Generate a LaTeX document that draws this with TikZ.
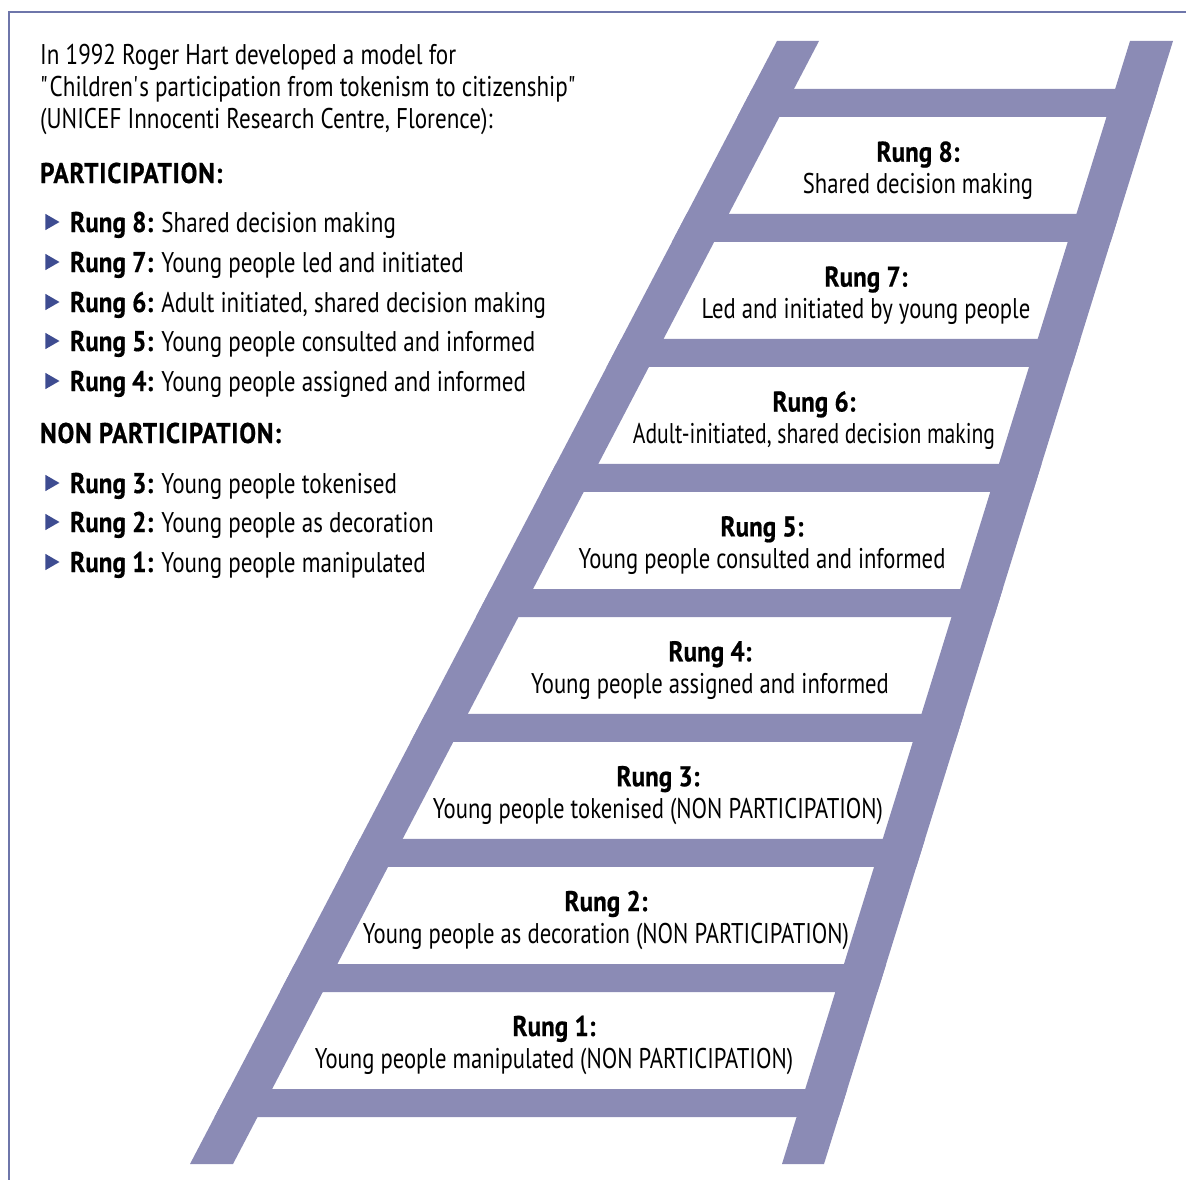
\documentclass[tikz,border=0pt]{standalone}
\usepackage{fontspec}
\setmainfont[FakeStretch=0.81, BoldFeatures={FakeStretch=0.88, FakeBold=0.6}]{PT Sans}
\usetikzlibrary{calc,positioning,shapes.geometric}

\definecolor{ladder}{RGB}{139,139,181}
\definecolor{bulletblue}{RGB}{62,76,145}
\definecolor{frameline}{RGB}{110,118,170}

\tikzset{
  rail/.style={fill=ladder},
  plain/.style={inner sep=0pt, anchor=base west, font=\fontsize{28.5}{32}\selectfont},
  heading/.style={inner sep=0pt, anchor=base west, font=\fontsize{28.5}{32}\selectfont\bfseries\addfontfeature{LetterSpace=3}},
  bullet/.style={regular polygon, regular polygon sides=3, shape border rotate=-90,
    fill=bulletblue, inner sep=0pt, minimum size=19pt},
  rungtitle/.style={inner sep=0pt, anchor=base, font=\fontsize{28.5}{32}\selectfont\bfseries},
  rungdesc/.style={inner sep=0pt, anchor=base, font=\fontsize{28.5}{32}\selectfont\addfontfeature{FakeStretch=0.795}}
}

\begin{document}
\begin{tikzpicture}[x=1pt,y=-1pt]

    \useasboundingbox (0,0) rectangle (1186,1180);

    % frame
    \draw[frameline, line width=1.3pt] (9,1180) -- (9,12) -- (1186,12);

    % ladder
    \coordinate (lt) at (777,41);
    \coordinate (lb) at (190,1164);
    \coordinate (rt) at (1173,41);
    \coordinate (rb) at (824,1164);

    \fill[rail] (lt) -- ++(42,0) -- ($(lb)+(43,0)$) -- (lb) -- cycle;
    \fill[rail] (rt) -- ++(-43,0) -- ($(rb)+(-42,0)$) -- (rb) -- cycle;

    \foreach \y in {89,214,...,1089}
        {
        \pgfmathsetmacro\ta{(\y-41)/1123}
        \pgfmathsetmacro\tb{(\y+28-41)/1123}
        \fill[rail] ($(lt)!\ta!(lb)$) -- ($(rt)!\ta!(rb)$) -- ($(rt)!\tb!(rb)$) -- ($(lt)!\tb!(lb)$) -- cycle;
        }

    % rung labels
    \foreach \n/\desc in {1/{Young people manipulated (NON PARTICIPATION)},
        2/{Young people as decoration (NON PARTICIPATION)},
        3/{Young people tokenised (NON PARTICIPATION)},
        4/{Young people assigned and informed},
        5/{Young people consulted and informed},
        6/{\addfontfeature{FakeStretch=0.76}Adult-initiated, shared decision making},
        7/{Led and initiated by young people},
        8/{Shared decision making}}
        {
        \node[rungtitle] (rung\n) at ({554+52*(\n-1)},{1036-124.9*(\n-1)}) {Rung \n:};
        \node[rungdesc] (desc\n) at ([yshift=-32pt]rung\n.base) {\desc};
        }

    % intro text
    \node[plain] (intro1) at (40,65) {In 1992 Roger Hart developed a model for};
    \node[plain] (intro2) at (40,97) {\textquotedbl Children\textquotesingle s participation from tokenism to citizenship\textquotedbl};
    \node[plain] (intro3) at (40,129) {(UNICEF Innocenti Research Centre, Florence):};

    \node[heading] (part) at (40,183) {PARTICIPATION:};
    \node[heading] (nonpart) at (40,443) {NON PARTICIPATION:};

    \foreach \n/\y/\txt in {8/232/{Shared decision making},
        7/272/{Young people led and initiated},
        6/312/{Adult initiated, shared decision making},
        5/351/{Young people consulted and informed},
        4/391/{Young people assigned and informed},
        3/493/{Young people tokenised},
        2/532/{Young people as decoration},
        1/572/{Young people manipulated}}
        {
        \node[bullet] (bul\n) at (50,\y-10) {};
        \node[plain] (item\n) at (70,\y) {\textbf{Rung \n:} \txt};
        }

\end{tikzpicture}
\end{document}
